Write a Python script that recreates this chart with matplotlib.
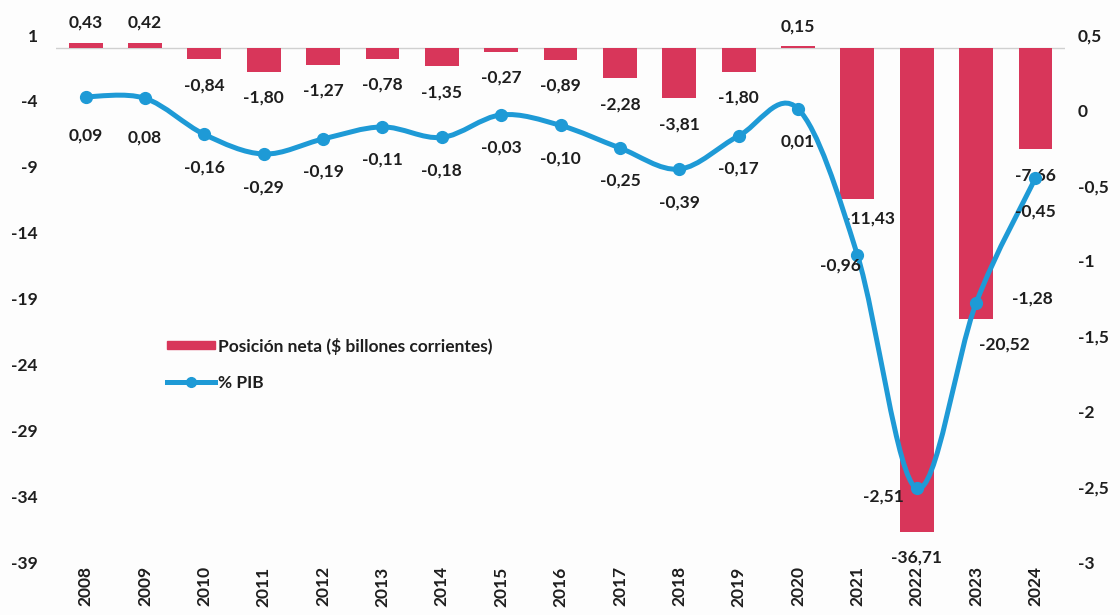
import numpy as np
import matplotlib
matplotlib.use('Agg')
from matplotlib import pyplot as plt
from matplotlib.path import Path
from matplotlib.patches import PathPatch, Patch
from matplotlib.lines import Line2D

years = [str(y) for y in range(2008, 2025)]
posicion = [0.43, 0.42, -0.84, -1.80, -1.27, -0.78, -1.35, -0.27, -0.89,
            -2.28, -3.81, -1.80, 0.15, -11.43, -36.71, -20.52, -7.66]
pib = [0.09, 0.08, -0.16, -0.29, -0.19, -0.11, -0.18, -0.03, -0.10,
       -0.25, -0.39, -0.17, 0.01, -0.96, -2.51, -1.28, -0.45]
left_ticks = [1, -4, -9, -14, -19, -24, -29, -34, -39]
right_ticks = [0.5, 0, -0.5, -1, -1.5, -2, -2.5, -3]

RED = '#d8365a'
BLUE = '#1e9ad6'
TXT = '#1e1e1e'
plt.rcParams['font.family'] = ['Lato', 'DejaVu Sans']
plt.rcParams['font.weight'] = 'bold'


def fmt(v):
    return ('%.2f' % v).replace('.', ',')


fig = plt.figure(figsize=(11.2, 6.15), dpi=100, facecolor='#fdfdfd')
ax = fig.add_axes([0.05, 0.086, 0.901, 0.857])
ax.set_facecolor('none')
ax2 = ax.twinx()

x = np.arange(len(years))
ax.bar(x, posicion, width=0.57, color=RED, zorder=2)
ax.axhline(0, color='#d0d0d0', lw=1, zorder=1)
ax.set_xlim(-0.5, len(years) - 0.5)
ax.set_ylim(-39, 1)
ax.set_yticks(left_ticks)
ax.set_yticklabels([str(t) for t in left_ticks])
ax.set_xticks(x)
ax.set_xticklabels(years, rotation=90)
ax.tick_params(axis='y', length=0, pad=13, labelsize=12.5, colors=TXT)
ax.tick_params(axis='x', length=0, pad=3, labelsize=12.5, colors=TXT)

ax2.set_ylim(-3, 0.5)
ax2.set_yticks(right_ticks)
ax2.set_yticklabels([('%g' % t).replace('.', ',') for t in right_ticks])
ax2.tick_params(axis='y', length=0, pad=9, labelsize=12.5, colors=TXT)
for a in (ax, ax2):
    for s in a.spines.values():
        s.set_visible(False)

# smoothed line (cubic bezier through the points, like a spreadsheet smooth line)
pts = np.column_stack([x, pib]).astype(float)
verts = [tuple(pts[0])]
codes = [Path.MOVETO]
n = len(pts)
for i in range(n - 1):
    p0 = pts[max(i - 1, 0)]
    p1 = pts[i]
    p2 = pts[i + 1]
    p3 = pts[min(i + 2, n - 1)]
    c1 = p1 + (p2 - p0) / 6
    c2 = p2 - (p3 - p1) / 6
    verts += [tuple(c1), tuple(c2), tuple(p2)]
    codes += [Path.CURVE4] * 3
ax2.add_patch(PathPatch(Path(verts, codes), fill=False, edgecolor=BLUE, lw=3.6,
                        capstyle='round', joinstyle='round', zorder=3))
ax2.plot(x, pib, 'o', color=BLUE, ms=8.5, zorder=4)

# bar labels
bar_off = {13: (12, -20), 15: (28, -26)}
for i, v in enumerate(posicion):
    if v >= 0:
        dx, dy = 0, 20
    else:
        dx, dy = bar_off.get(i, (0, -26))
    ax.annotate(fmt(v), (i, v), xytext=(dx, dy), textcoords='offset pixels',
                ha='center', va='center', fontsize=12.5, color=TXT, zorder=5)

# line labels
line_off = {0: (0, -39), 1: (0, -39), 13: (-17, -11), 14: (-33, -8), 15: (56, 5)}
for i, v in enumerate(pib):
    dx, dy = line_off.get(i, (0, -33))
    ax2.annotate(fmt(v), (i, v), xytext=(dx, dy), textcoords='offset pixels',
                 ha='center', va='center', fontsize=12.5, color=TXT, zorder=5)

handles = [Patch(color=RED), Line2D([], [], color=BLUE, lw=3.6, marker='o', ms=7)]
labels = ['Posición neta ($ billones corrientes)', '% PIB']
fig.legend(handles, labels, loc='upper left', bbox_to_anchor=(0.135, 1 - 322 / 615),
           frameon=False, fontsize=12.5, handlelength=2.8, handleheight=0.35,
           handletextpad=0.15, labelspacing=1.15, labelcolor=TXT)

fig.savefig('out.png', dpi=100, facecolor=fig.get_facecolor())
